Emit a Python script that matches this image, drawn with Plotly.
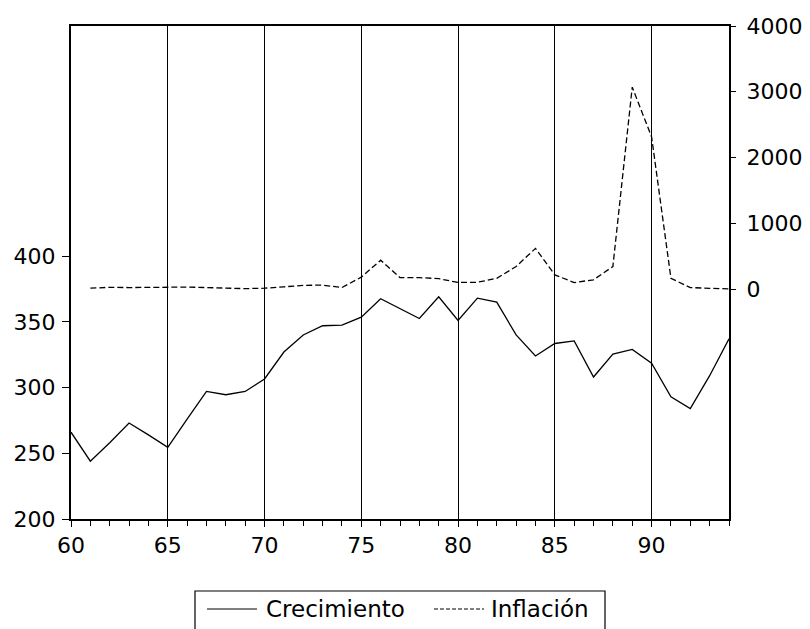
import plotly.graph_objects as go

years = list(range(60, 95))
crecimiento = [266, 244, 258, 273, 264, 254.5, 276, 297, 294.5, 297,
               306.5, 327, 340, 347, 347.5, 353.5, 367.5, 360, 352.5, 369,
               351, 368, 365, 340, 324, 333.5, 335.5, 308, 325.5, 329,
               318.5, 293, 284, 309, 337]
inflacion = [None, 14, 28, 24, 22, 29, 32, 29, 16, 8,
             14, 35, 58, 61, 24, 182, 440, 176, 175, 160,
             101, 104, 165, 344, 620, 217, 100, 142, 344, 3070,
             2315, 165, 24, 12, 4]

left_ticks = [200, 250, 300, 350, 400]
right_ticks = [0, 1000, 2000, 3000, 4000]
x_ticks = [60, 65, 70, 75, 80, 85, 90]

FONT = "DejaVu Sans"

# page body has an 8px margin; figure is sized/margined so the plot area lands
# at x 71..729, y 26..519 in the window
PLOT_L, PLOT_R, PLOT_T, PLOT_B = 71, 729, 26, 519
OFF = 8

fig = go.Figure()
fig.add_trace(go.Scatter(x=years, y=crecimiento, mode="lines", name="Crecimiento",
                         line=dict(color="black", width=1.3), yaxis="y"))
fig.add_trace(go.Scatter(x=years, y=inflacion, mode="lines", name="Inflación",
                         line=dict(color="black", width=1.3, dash="6px,3px"), yaxis="y2"))

fig.update_layout(
    width=810 - OFF, height=629 - OFF,
    margin=dict(l=PLOT_L - OFF, r=810 - PLOT_R, t=PLOT_T - OFF, b=629 - PLOT_B, autoexpand=False),
    paper_bgcolor="white", plot_bgcolor="white",
    showlegend=False,
    font=dict(family=FONT, size=22, color="black"),
    xaxis=dict(range=[60, 94], tickvals=x_ticks, ticktext=[str(v) for v in x_ticks],
               showgrid=True, gridcolor="black", gridwidth=1,
               showline=True, linecolor="black", linewidth=2, mirror=True,
               ticks="outside", ticklen=6, tickcolor="black", tickwidth=1,
               minor=dict(dtick=1, tick0=60, ticks="outside", ticklen=5, tickcolor="black", showgrid=False),
               zeroline=False, tickfont=dict(family=FONT, size=22)),
    yaxis=dict(range=[200, 575], tickvals=left_ticks, ticktext=[str(v) for v in left_ticks],
               showgrid=False, zeroline=False,
               showline=True, linecolor="black", linewidth=2,
               ticks="outside", ticklen=7, tickcolor="black", tickwidth=1,
               ticklabelstandoff=2,
               tickfont=dict(family=FONT, size=22)),
    yaxis2=dict(range=[-3494, 4000], tickvals=right_ticks, ticktext=[str(v) for v in right_ticks],
                overlaying="y", side="right", showgrid=False, zeroline=False,
                showline=True, linecolor="black", linewidth=2,
                ticks="outside", ticklen=5, tickcolor="black", tickwidth=1,
                ticklabelstandoff=6,
                tickfont=dict(family=FONT, size=22)),
)

W = PLOT_R - PLOT_L
H = PLOT_B - PLOT_T


def px_x(x):
    return (x - PLOT_L) / W


def px_y(y):
    return (PLOT_B - y) / H


fig.add_shape(type="rect", xref="paper", yref="paper",
              x0=px_x(195), x1=px_x(605), y0=px_y(640), y1=px_y(591),
              line=dict(color="black", width=1.2), fillcolor="white")
fig.add_shape(type="line", xref="paper", yref="paper",
              x0=px_x(207), x1=px_x(257), y0=px_y(609), y1=px_y(609),
              line=dict(color="black", width=1.2))
fig.add_shape(type="line", xref="paper", yref="paper",
              x0=px_x(434), x1=px_x(484), y0=px_y(609), y1=px_y(609),
              line=dict(color="black", width=1, dash="4px,2px"))
fig.add_annotation(text="Crecimiento", xref="paper", yref="paper",
                   x=px_x(264), y=px_y(609), xanchor="left", yanchor="middle",
                   showarrow=False, font=dict(family=FONT, size=23, color="black"))
fig.add_annotation(text="Inflación", xref="paper", yref="paper",
                   x=px_x(489), y=px_y(609), xanchor="left", yanchor="middle",
                   showarrow=False, font=dict(family=FONT, size=23, color="black"))

fig.write_html("out.html")
